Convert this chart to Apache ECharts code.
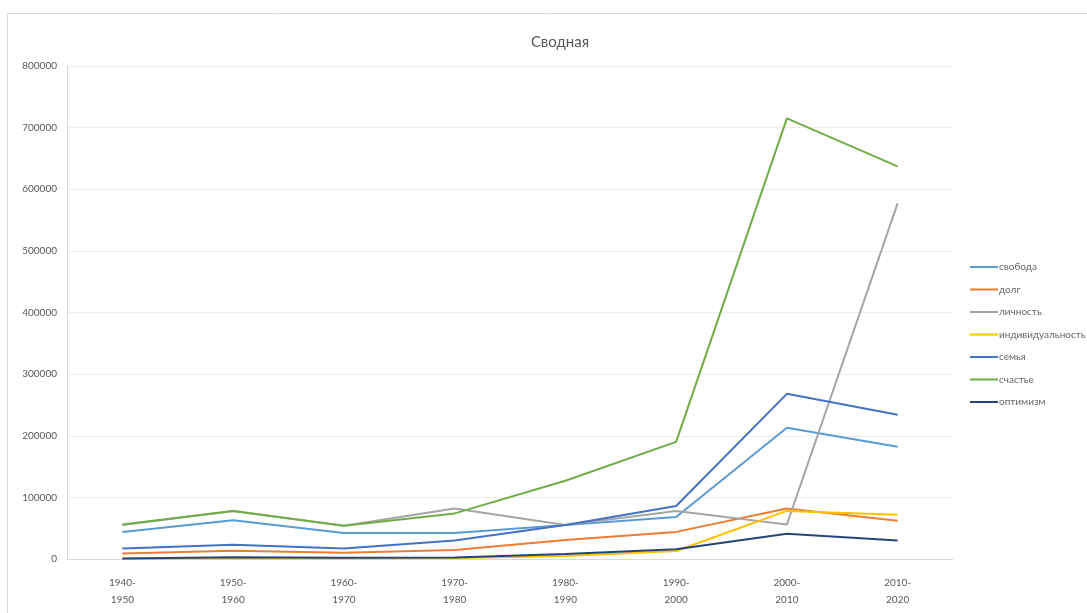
<!DOCTYPE html>
<html>
<head>
<meta charset="utf-8">
<script src="https://cdn.jsdelivr.net/npm/echarts@6/dist/echarts.min.js"></script>
<style>
  html, body { margin: 0; padding: 0; background: #fff; }
  #chart { width: 1087px; height: 613px; }
</style>
</head>
<body>
<div id="chart"></div>
<script>
// Decades on the category axis
const categories = ['1940-\n1950', '1950-\n1960', '1960-\n1970', '1970-\n1980', '1980-\n1990', '1990-\n2000', '2000-\n2010', '2010-\n2020'];

// Word frequencies per decade
const svoboda        = [44000, 63000, 42000, 42000, 55000, 68000, 213000, 182000];
const dolg           = [9000, 13500, 10000, 14500, 31000, 44000, 82000, 62000];
const lichnost       = [55000, 78000, 54000, 82000, 55000, 78000, 56000, 577000];
const individualnost = [500, 1000, 1000, 1500, 5000, 13000, 78000, 72000];
const semya          = [17000, 23000, 17000, 30000, 55000, 86000, 268000, 234000];
const schastye       = [56000, 78000, 54000, 74000, 127000, 190000, 715000, 637000];
const optimizm       = [1000, 3000, 2000, 2500, 8000, 16000, 41000, 30000];

// Value axis ticks
const yMin = 0, yMax = 800000, yStep = 100000;

const seriesDefs = [
  { name: 'свобода', data: svoboda, color: '#5B9BD5' },
  { name: 'долг', data: dolg, color: '#ED7D31' },
  { name: 'личность', data: lichnost, color: '#A5A5A5' },
  { name: 'индивидуальность', data: individualnost, color: '#FFC000' },
  { name: 'семья', data: semya, color: '#4472C4' },
  { name: 'счастье', data: schastye, color: '#70AD47' },
  { name: 'оптимизм', data: optimizm, color: '#264478' }
];

const font = 'Lato, "Open Sans", sans-serif';
const chart = echarts.init(document.getElementById('chart'), null, { renderer: 'canvas' });

chart.setOption({
  backgroundColor: '#ffffff',
  animation: false,
  title: {
    text: 'Сводная',
    left: 555,
    textAlign: 'center',
    top: 30,
    textStyle: { fontFamily: font, fontSize: 15, fontWeight: 'normal', color: '#595959' }
  },
  graphic: [{
    type: 'rect',
    shape: { x: 7.5, y: 13.5, width: 1100, height: 620 },
    style: { fill: 'none', stroke: '#d9d9d9', lineWidth: 1 },
    silent: true
  }],
  legend: {
    orient: 'vertical',
    left: 965,
    top: 257,
    itemGap: 12.5,
    itemWidth: 28,
    itemHeight: 14,
    icon: 'path://M0,6 L28,6 L28,8 L0,8 Z',
    textStyle: { fontFamily: font, fontSize: 10, color: '#666666', padding: [0, 0, 0, -4] },
    data: seriesDefs.map(s => s.name)
  },
  grid: { left: 67, right: 134, top: 66, bottom: 54, containLabel: false },
  xAxis: {
    type: 'category',
    data: categories,
    boundaryGap: true,
    axisLine: { show: true, lineStyle: { color: '#d9d9d9', width: 1 } },
    axisTick: { show: false },
    axisLabel: { fontFamily: font, fontSize: 10, color: '#595959', lineHeight: 17, margin: 15 },
    splitLine: { show: false }
  },
  yAxis: {
    type: 'value',
    min: yMin,
    max: yMax,
    interval: yStep,
    axisLine: { show: true, lineStyle: { color: '#d9d9d9', width: 1 } },
    axisTick: { show: false },
    axisLabel: { fontFamily: font, fontSize: 10, color: '#595959', margin: 10, formatter: v => String(v) },
    splitLine: { show: true, lineStyle: { color: '#eeeeee', width: 1 } }
  },
  series: seriesDefs.map(s => ({
    name: s.name,
    type: 'line',
    data: s.data,
    symbol: 'none',
    smooth: false,
    lineStyle: { color: s.color, width: 2 },
    itemStyle: { color: s.color }
  }))
});
</script>
</body>
</html>
